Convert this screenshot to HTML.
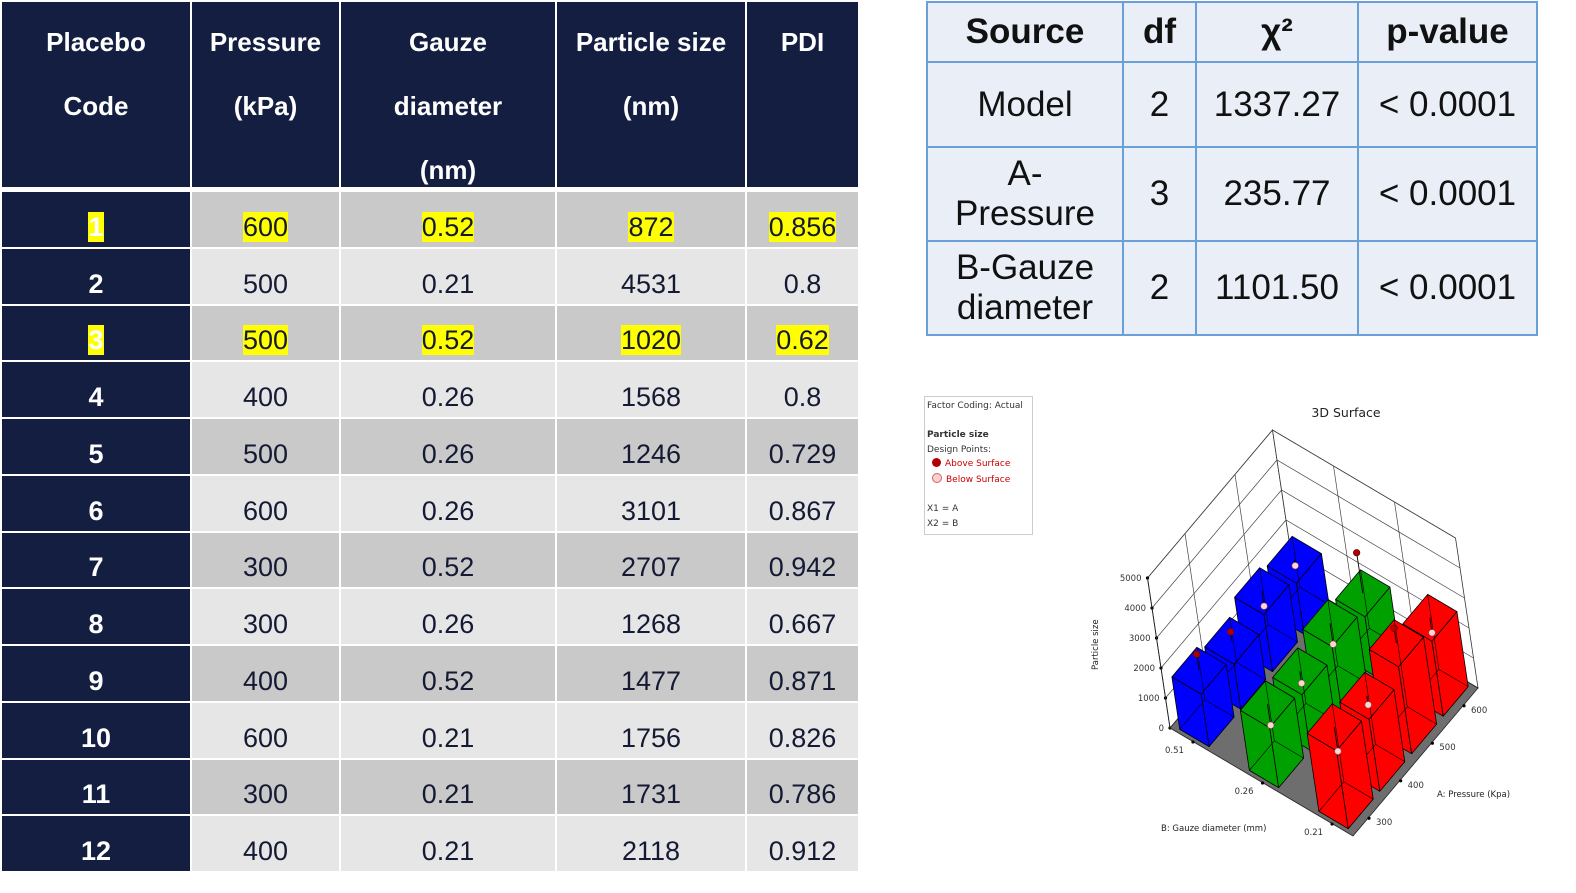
<!DOCTYPE html>
<html><head><meta charset="utf-8">
<style>
body{margin:0;width:1576px;height:893px;background:#fff;position:relative;overflow:hidden;font-family:"Liberation Sans",Arial,sans-serif}
.abs{position:absolute}
.nar{font-family:"Liberation Sans Narrow","Liberation Sans",sans-serif}
.hd{background:#131e40;color:#fff;font-weight:bold;font-size:26px;text-align:center;box-sizing:border-box}
.cell{position:absolute;text-align:center;font-size:27px;color:#141a33;box-sizing:border-box}
.hl{background:#ffff00}
.rt td{border:2px solid #6b9fd8;background:#e9eef7;text-align:center;font-size:35px;color:#111;padding:0;line-height:40px}
</style></head><body>
<div id="lt"></div>
<table class="rt abs" style="left:926px;top:1px;width:612px;height:335px;border-collapse:collapse">
<tr style="height:60px"><td style="width:194px;font-weight:bold">Source</td><td style="width:71px;font-weight:bold">df</td><td style="width:160px;font-weight:bold">χ²</td><td style="font-weight:bold">p-value</td></tr>
<tr style="height:85px"><td>Model</td><td>2</td><td>1337.27</td><td>&lt; 0.0001</td></tr>
<tr style="height:93px"><td>A-<br>Pressure</td><td>3</td><td>235.77</td><td>&lt; 0.0001</td></tr>
<tr style="height:94px"><td>B-Gauze<br>diameter</td><td>2</td><td>1101.50</td><td>&lt; 0.0001</td></tr>
</table>
<div class="abs" style="left:924px;top:396px;width:107px;height:137px;border:1px solid #ccc;font-size:9px;color:#333;font-family:'DejaVu Sans',sans-serif;line-height:12px">
<div style="position:absolute;left:2px;top:3px">Factor Coding: Actual</div>
<div style="position:absolute;left:2px;top:32px;font-weight:bold">Particle size</div>
<div style="position:absolute;left:2px;top:47px">Design Points:</div>
<div style="position:absolute;left:7px;top:61px;color:#c00"><span style="display:inline-block;width:9px;height:9px;border-radius:50%;background:#b00000;vertical-align:-1px;margin-right:4px"></span>Above Surface</div>
<div style="position:absolute;left:7px;top:76px;color:#c00"><span style="display:inline-block;width:8px;height:8px;border-radius:50%;background:#fcd0d0;border:1px solid #c66;vertical-align:-1px;margin-right:4px"></span>Below Surface</div>
<div style="position:absolute;left:2px;top:106px">X1 = A</div>
<div style="position:absolute;left:2px;top:121px">X2 = B</div>
</div>
<svg id="ch" class="abs" style="left:0;top:0" width="1576" height="893"></svg>
<script>
// ---- left table data ----
const codes=["1","2","3","4","5","6","7","8","9","10","11","12"];
const pressures=["600","500","500","400","500","600","300","300","400","600","300","400"];
const gauzes=["0.52","0.21","0.52","0.26","0.26","0.26","0.52","0.26","0.52","0.21","0.21","0.21"];
const sizes=["872","4531","1020","1568","1246","3101","2707","1268","1477","1756","1731","2118"];
const pdis=["0.856","0.8","0.62","0.8","0.729","0.867","0.942","0.667","0.871","0.826","0.786","0.912"];
const highlighted=[true,false,true,false,false,false,false,false,false,false,false,false];
// ---- chart data ----
const pressureLevels=["300","400","500","600"];
const gauzeLevels=["0.51","0.26","0.21"];
const barBlue=[1750,1500,1900,1700];
const barGreen=[2000,1850,2200,1950];
const barRed=[2600,2400,2900,2500];
const ptBlue=[2300,1800,1400,1500];
const ptGreen=[1300,1450,1500,3300];
const ptRed=[1800,2100,3400,2000];
const zTicks=[0,1000,2000,3000,4000,5000];

(function(){
 const lt=document.getElementById('lt');
 const cols=[[2,190],[192,339],[341,555],[557,745],[747,858]];
 const heads=["Placebo<br>Code","Pressure<br>(kPa)","Gauze<br>diameter<br>(nm)","Particle size<br>(nm)","PDI"];
 const hn=["header-code","header-pressure","header-gauze","header-particle-size","header-pdi"];
 cols.forEach((c,i)=>{
  const d=document.createElement('div');
  
  
  d.className='hd nar';
  d.style.cssText=`position:absolute;left:${c[0]}px;top:2px;width:${c[1]-c[0]}px;height:185px;line-height:64px;padding-top:8px`;
  d.innerHTML=heads[i];lt.appendChild(d);
 });
 const pitch=56.75;
 for(let r=0;r<12;r++){
  const top=192+r*pitch, h=pitch-2;
  const vals=[codes[r],pressures[r],gauzes[r],sizes[r],pdis[r]];
  cols.forEach((c,i)=>{
   const d=document.createElement('div');
   
   
   d.className='cell nar';
   const bg=i==0?'#131e40':(r%2==0?'#c9c9c9':'#e6e6e6');
   d.style.cssText=`left:${c[0]}px;top:${top}px;width:${c[1]-c[0]}px;height:${h}px;background:${bg};padding-top:${h-35}px;line-height:30px;`+(i==0?'color:#fff;font-weight:bold;':'');
   d.innerHTML=highlighted[r]?`<span class="hl"${i==0?' style="color:#fff"':''}>${vals[i]}</span>`:vals[i];
   lt.appendChild(d);
  });
 }
})();

(function(){
 const svg=document.getElementById('ch');const NS='http://www.w3.org/2000/svg';
 const L=[1170,728],B=[1353,836],R=[1478,688];
 const du=[B[0]-L[0],B[1]-L[1]],dv=[R[0]-B[0],R[1]-B[1]];
 const zv=[-4.5/1000,-30/1000];
 function P(u,v,z){return [L[0]+u*du[0]+v*dv[0]+z*zv[0], L[1]+u*du[1]+v*dv[1]+z*zv[1]];}
 function el(t,a,name){const e=document.createElementNS(NS,t);for(const k in a)e.setAttribute(k,a[k]);
  if(name){}svg.appendChild(e);return e;}
 function pts(a){return a.map(p=>p[0].toFixed(1)+','+p[1].toFixed(1)).join(' ');}
 const zmax=5000;
 el('polygon',{points:pts([P(0,0,0),P(0,1,0),P(0,1,zmax),P(0,0,zmax)]),fill:'#fff',stroke:'#333','stroke-width':0.8},'left-wall');
 el('polygon',{points:pts([P(0,1,0),P(1,1,0),P(1,1,zmax),P(0,1,zmax)]),fill:'#fff',stroke:'#333','stroke-width':0.8},'right-wall');
 zTicks.forEach(z=>{
  el('polyline',{points:pts([P(0,0,z),P(0,1,z),P(1,1,z)]),fill:'none',stroke:'#444','stroke-width':0.7},'gridline-'+z);
  const p=P(0,0,z);
  el('circle',{cx:p[0],cy:p[1],r:1.6,fill:'#000'});
  const t=el('text',{x:p[0]-6,y:p[1]+3,'font-size':8.5,'text-anchor':'end',fill:'#333','font-family':'DejaVu Sans,sans-serif'},'z-tick-'+z);t.textContent=z;
 });
 [1/3,2/3].forEach(u=>el('line',{x1:P(u,1,0)[0],y1:P(u,1,0)[1],x2:P(u,1,zmax)[0],y2:P(u,1,zmax)[1],stroke:'#444','stroke-width':0.7}));
 [0.3,0.7].forEach(v=>el('line',{x1:P(0,v,0)[0],y1:P(0,v,0)[1],x2:P(0,v,zmax)[0],y2:P(0,v,zmax)[1],stroke:'#444','stroke-width':0.7}));
 el('line',{x1:P(0,0,0)[0],y1:P(0,0,0)[1],x2:P(0,0,zmax)[0],y2:P(0,0,zmax)[1],stroke:'#222','stroke-width':0.9},'z-axis');
 el('polygon',{points:pts([P(0,0,0),P(1,0,0),P(1,1,0),P(0,1,0)]),fill:'#6e6e6e',stroke:'#222','stroke-width':0.8},'floor');
 const uc=[0.12,0.5,0.88],vc=[0.12,0.373,0.627,0.88];
 gauzeLevels.forEach((g,i)=>{const p=P(uc[i],0,0);el('circle',{cx:p[0]+1,cy:p[1]+1,r:1.6,fill:'#000'});
  const t=el('text',{x:p[0]-8,y:p[1]+12,'font-size':8.5,'text-anchor':'end',fill:'#333','font-family':'DejaVu Sans,sans-serif'},'b-tick-'+g);t.textContent=g;});
 pressureLevels.forEach((a,i)=>{const p=P(1,vc[i],0);el('circle',{cx:p[0]+1,cy:p[1],r:1.6,fill:'#000'});
  const t=el('text',{x:p[0]+8,y:p[1]+7,'font-size':8.5,fill:'#333','font-family':'DejaVu Sans,sans-serif'},'a-tick-'+a);t.textContent=a;});
 const series=[[barBlue,ptBlue,'#0000ff'],[barGreen,ptGreen,'#00a000'],[barRed,ptRed,'#ff0000']];
 const items=[];
 series.forEach((s,bi)=>s[0].forEach((val,ai)=>items.push({bi,ai,val,pt:s[1][ai],col:s[2]})));
 items.sort((a,b)=>(uc[a.bi]-vc[a.ai])-(uc[b.bi]-vc[b.ai]));
 const hu=0.08,hv=0.1;
 items.forEach(it=>{
  const u0=uc[it.bi]-hu,u1=uc[it.bi]+hu,v0=vc[it.ai]-hv,v1=vc[it.ai]+hv,z=it.val;
  const nm='bar-b'+gauzeLevels[it.bi]+'-a'+pressureLevels[it.ai];
  const g=el('g',{},nm);
  const add=(a)=>{const e=document.createElementNS(NS,'polygon');e.setAttribute('points',pts(a));e.setAttribute('fill',it.col);e.setAttribute('stroke','#000');e.setAttribute('stroke-width','0.8');e.setAttribute('stroke-linejoin','round');g.appendChild(e);};
  add([P(u1,v0,0),P(u1,v1,0),P(u1,v1,z),P(u1,v0,z)]);
  add([P(u0,v0,0),P(u1,v0,0),P(u1,v0,z),P(u0,v0,z)]);
  add([P(u0,v0,z),P(u1,v0,z),P(u1,v1,z),P(u0,v1,z)]);
  [[P(u0,v1,0),P(u0,v1,z)],[P(u0,v1,0),P(u1,v1,0)],[P(u0,v1,0),P(u0,v0,0)]].forEach(l=>{const e=document.createElementNS(NS,'line');
   e.setAttribute('x1',l[0][0]);e.setAttribute('y1',l[0][1]);e.setAttribute('x2',l[1][0]);e.setAttribute('y2',l[1][1]);e.setAttribute('stroke','#000');e.setAttribute('stroke-width','0.6');g.appendChild(e);});
  const uc0=uc[it.bi],vc0=vc[it.ai];
  const a=P(uc0,vc0,z),b=P(uc0,vc0,it.pt);
  const above=it.pt>it.val;
  el('line',{x1:a[0],y1:a[1],x2:b[0],y2:b[1],stroke:'#000','stroke-width':0.9});
  el('circle',{cx:b[0],cy:b[1],r:3.3,fill:above?'#b00000':'#fcd6d6',stroke:above?'#600':'#944','stroke-width':0.6},'design-point-b'+gauzeLevels[it.bi]+'-a'+pressureLevels[it.ai]);
 });
 const tx=(x,y,s,n,sz,extra)=>{const t=el('text',Object.assign({x,y,'font-size':sz||9,fill:'#222','font-family':'DejaVu Sans,sans-serif'},extra||{}),n);t.textContent=s;};
 tx(1346,417,'3D Surface','chart-title',12.5,{'text-anchor':'middle'});
 tx(1161,831,'B: Gauze diameter (mm)','x-axis-title',8.5);
 tx(1437,797,'A: Pressure (Kpa)','y-axis-title',8.5);
 tx(0,0,'Particle size','z-axis-title',8.5,{transform:'translate(1098,670) rotate(-90)'});
})();
</script>
</body></html>
